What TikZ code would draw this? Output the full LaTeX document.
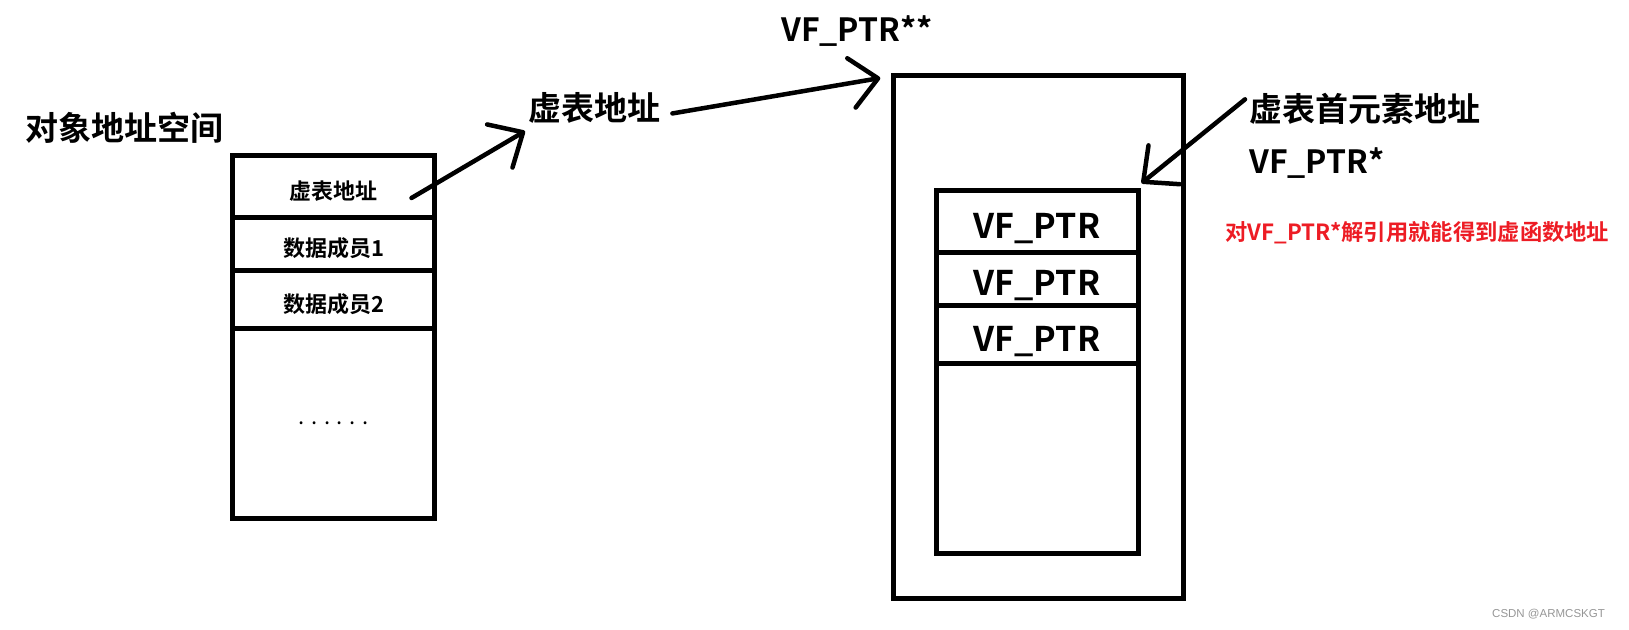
\documentclass[tikz,border=0pt]{standalone}
\usepackage{fontspec}
\setmainfont{Noto Sans CJK SC}[BoldFont={Noto Sans CJK SC Bold}]
\newfontfamily\wmfont{Liberation Sans}
\usetikzlibrary{positioning,arrows.meta}
\definecolor{warnred}{RGB}{237,28,36}
\definecolor{wmgray}{RGB}{150,150,150}
\begin{document}
\begin{tikzpicture}[x=1pt,y=-1pt,>={Straight Barb[length=27pt,width=50pt,round]},
		cell/.style={draw,line width=5pt,minimum width=202pt,inner sep=0pt,outer sep=0pt},
		objtext/.style={font=\bfseries\fontsize{22}{26}\selectfont,text height=26pt,text depth=0pt},
		vftext/.style={font=\bfseries\fontsize{34}{40}\selectfont,text height=33pt,text depth=0pt},
		title/.style={font=\bfseries\fontsize{33}{38}\selectfont,inner sep=0pt,anchor=base west},
		ptrtitle/.style={title,font=\bfseries\fontsize{32}{38}\selectfont},
		arr/.style={->,line width=4.5pt,line cap=round}]
			\useasboundingbox (0,0) rectangle (1629,629);
			\node[title] (objspace) at (25,140) {对象地址空间};
			\node[cell,objtext,minimum height=62pt,anchor=north west] (obj1) at (232.5,155) {虚表地址};
			\node[cell,objtext,minimum height=53pt,below=0pt of obj1] (obj2) {数据成员1};
			\node[cell,objtext,minimum height=58pt,below=0pt of obj2] (obj3) {数据成员2};
			\node[cell,font=\fontsize{22}{26}\selectfont,minimum height=190pt,below=0pt of obj3] (obj4) {. . . . . .};
			\node[title] (vtaddr) at (528,120) {虚表地址};
			\node[ptrtitle] (pptr) at (781,41.5) {VF\_PTR**};
			\node[draw,line width=5pt,minimum width=290pt,minimum height=523pt,inner sep=0pt,outer sep=0pt,anchor=north west] (vtab) at (893.3,75) {};
			\node[cell,vftext,minimum height=62pt,anchor=north west] (vf1) at (936,190.7) {VF\_PTR};
			\node[cell,vftext,minimum height=53pt,below=0pt of vf1] (vf2) {VF\_PTR};
			\node[cell,vftext,minimum height=58pt,below=0pt of vf2] (vf3) {VF\_PTR};
			\node[cell,minimum height=190pt,below=0pt of vf3] (vf4) {};
			\node[title] (first) at (1249,121) {虚表首元素地址};
			\node[ptrtitle] (ptr) at (1249,173.5) {VF\_PTR*};
			\node[font=\bfseries\fontsize{22.3}{26}\selectfont,text=warnred,inner sep=0pt,anchor=base west] (deref) at (1225,240) {对VF\_PTR*解引用就能得到虚函数地址};
			\node[font=\wmfont\fontsize{11.5}{13}\selectfont,text=wmgray,inner sep=0pt,anchor=base west] (csdn) at (1492,617) {CSDN @ARMCSKGT};
			\draw[arr] ([xshift=-23pt,yshift=-12pt]obj1.east) -- ([xshift=-3pt,yshift=-8pt]vtaddr.south west);
			\draw[arr] ([xshift=12pt,yshift=-6pt]vtaddr.east) -- ([xshift=-13pt,yshift=-3pt]vtab.north west);
			\draw[arr] ([xshift=-4pt,yshift=9pt]first.west) -- ([xshift=3.5pt,yshift=7.5pt]vf1.north east);
		\end{tikzpicture}
\end{document}
